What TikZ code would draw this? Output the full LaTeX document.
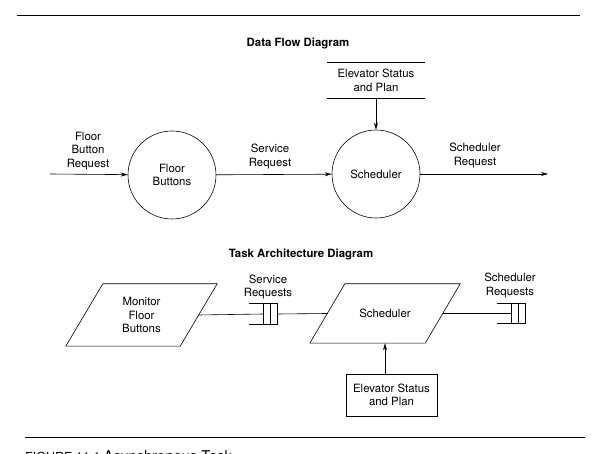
\documentclass[tikz,border=0pt]{standalone}
\usepackage{fontspec}
\setmainfont{TeX Gyre Heros}
\usetikzlibrary{arrows.meta}
\begin{document}
\begin{tikzpicture}[x=1pt,y=-1pt,
        font=\fontsize{11.4}{13.5}\selectfont,
        arrow/.style = {semithick,-{Stealth[length=7pt,width=4pt]}},
        bubble/.style = {draw,semithick,circle,minimum size=88pt,inner sep=0pt,align=center},
        task/.style = {inner sep=0pt,align=center},
        queue/.style = {minimum width=28pt,minimum height=20pt,inner sep=0pt},
        flowtext/.style = {align=center},
        heading/.style = {font=\fontsize{11.4}{13.5}\selectfont\bfseries}]
    \useasboundingbox (0,0) rectangle (600,454);
    % page rules
    \draw[line width=0.8pt] (17,15) -- (580,15);
    \draw[line width=0.8pt] (25,437) -- (585,437);

    % data flow diagram
    \node[heading] (dfdtitle) at (298,43) {Data Flow Diagram};
    \node[bubble] (floorbtn) at (172,175) {Floor\\Buttons};
    \node[bubble] (sched) at (376,174) {Scheduler};
    \node[minimum width=98pt,minimum height=35pt,align=center] 
        (status) at (376,80.5) {Elevator Status\\and Plan};
    \draw[semithick] (status.north west) -- (status.north east)
                     (status.south west) -- (status.south east);
    \coordinate (inflow) at (50,174);
    \coordinate (outflow) at (548,174);
    \draw[arrow] (inflow) -- (floorbtn);
    \draw[arrow] (floorbtn) -- (sched);
    \draw[arrow] (sched) -- (outflow);
    \draw[arrow] (status) -- (sched);
    \node[flowtext] (fbreq) at (88,151) {Floor\\Button\\Request};
    \node[flowtext] (srvreq) at (270,156.5) {Service\\Request};
    \node[flowtext] (schreq) at (475,155.5) {Scheduler\\Request};

    % task architecture diagram
    \node[heading] (tadtitle) at (301,254) {Task Architecture Diagram};
    \node[task,minimum width=114pt,minimum height=62pt] 
        (monitor) at (141.5,315) {Monitor\\Floor\\Buttons};
    \node[task,minimum width=115pt,minimum height=59pt] 
        (schedtask) at (385,313.5) {Scheduler};
    % slanted sides of the task boxes
    \foreach \t/\s in {monitor/18.5,schedtask/17.5} {
        \draw[semithick] ([xshift=\s pt]\t.north west) -- ([xshift=\s pt]\t.north east)
            -- ([xshift=-\s pt]\t.south east) -- ([xshift=-\s pt]\t.south west) -- cycle;
    }
    \node[queue] (srvq) at (263,314) {};
    \node[queue] (schq) at (511,313.5) {};
    \foreach \q in {srvq,schq} {
        \draw[semithick] (\q.north west) -- (\q.north east) -- (\q.south east) -- (\q.south west);
        \draw[semithick] (\q.north) -- (\q.south)
            ([xshift=-7pt]\q.north east) -- ([xshift=-7pt]\q.south east);
    }
    \node[draw,semithick,minimum width=91pt,minimum height=42pt,align=center] 
        (statusbox) at (391.5,395) {Elevator Status\\and Plan};
    \draw[semithick] (monitor.east) -- (srvq.center);
    \draw[semithick] (srvq.east) -- (schedtask.west);
    \draw[semithick] (schedtask.east) -- (schq.center);
    \draw[arrow] (statusbox.north -| schedtask.south) -- (schedtask.south);
    \node[flowtext] (srvqtext) at (268,287) {Service\\Requests};
    \node[flowtext] (schqtext) at (510,285.5) {Scheduler\\Requests};

    % caption, cut off by the page edge as in the scan
    \node[anchor=base west,inner sep=0pt,font=\fontsize{12.5}{14}\selectfont] 
        (caption) at (25,461) {FIGURE 11.1 \fontsize{14.8}{16}\selectfont Asynchronous Task};
\end{tikzpicture}
\end{document}
